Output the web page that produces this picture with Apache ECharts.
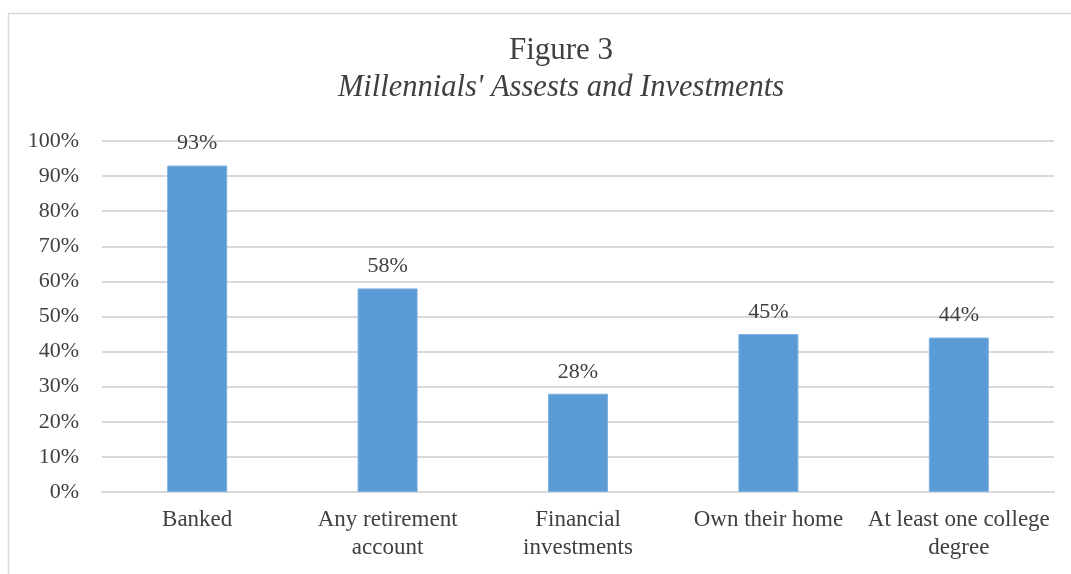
<!DOCTYPE html>
<html>
<head>
<meta charset="utf-8">
<script src="https://cdn.jsdelivr.net/npm/echarts@6/dist/echarts.min.js"></script>
<style>
  html, body { margin: 0; padding: 0; background: #ffffff; }
  #chart { width: 1071px; height: 574px; }
</style>
</head>
<body>
<div id="chart"></div>
<script>
// Share of millennials holding each asset type
const categories = ['Banked', 'Any retirement\naccount', 'Financial\ninvestments', 'Own their home', 'At least one college\ndegree'];
const shares = [93, 58, 28, 45, 44];
const yTicks = [0, 10, 20, 30, 40, 50, 60, 70, 80, 90, 100];

const serif = '"Liberation Serif", "Times New Roman", serif';
const textColor = '#404040';

const chart = echarts.init(document.getElementById('chart'));
chart.setOption({
  backgroundColor: '#ffffff',
  animation: false,
  graphic: [{
    type: 'rect',
    shape: { x: 8.5, y: 13.5, width: 1070, height: 600 },
    style: { fill: 'none', stroke: '#d9d9d9', lineWidth: 1.5 },
    silent: true
  }],
  title: {
    text: 'Figure 3',
    subtext: "Millennials' Assests and Investments",
    left: 556,
    textAlign: 'center',
    top: 30,
    itemGap: 6,
    textStyle: { fontFamily: serif, fontSize: 31, fontWeight: 'normal', color: textColor, lineHeight: 31 },
    subtextStyle: { fontFamily: serif, fontSize: 30.5, fontStyle: 'italic', color: textColor, lineHeight: 31 }
  },
  grid: { left: 102, right: 17, top: 141, bottom: 82, containLabel: false },
  xAxis: {
    type: 'category',
    data: categories,
    axisLine: { show: true, lineStyle: { color: '#d9d9d9', width: 2 } },
    axisTick: { show: false },
    axisLabel: { fontFamily: serif, fontSize: 23, color: textColor, lineHeight: 28, margin: 14, interval: 0 }
  },
  yAxis: {
    type: 'value',
    min: yTicks[0],
    max: yTicks[yTicks.length - 1],
    interval: 10,
    axisLine: { show: false },
    axisTick: { show: false },
    splitLine: { lineStyle: { color: '#d9d9d9', width: 2 } },
    axisLabel: { fontFamily: serif, fontSize: 22, color: textColor, margin: 23, formatter: '{value}%' }
  },
  series: [{
    type: 'bar',
    data: shares,
    barWidth: 60,
    itemStyle: { color: '#5b9bd5', borderColor: '#7eb0e0', borderWidth: 1 },
    label: {
      show: true,
      position: 'top',
      distance: 11,
      fontFamily: serif,
      fontSize: 22,
      color: textColor,
      formatter: p => p.value + '%'
    }
  }]
});
</script>
</body>
</html>
